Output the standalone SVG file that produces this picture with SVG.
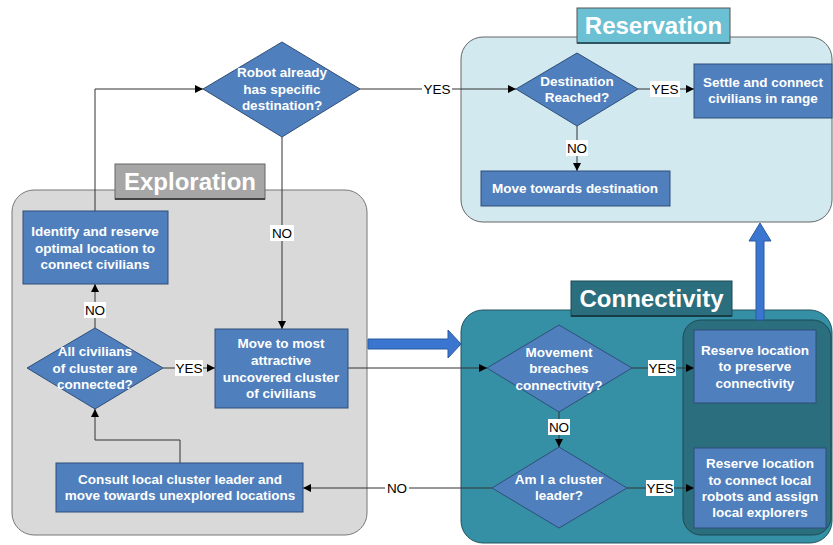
<svg xmlns="http://www.w3.org/2000/svg" width="833" height="545" viewBox="0 0 833 545">
<defs>
<marker id="ah" viewBox="0 0 10 10" refX="10" refY="5" markerWidth="8" markerHeight="8" markerUnits="userSpaceOnUse" orient="auto">
<path d="M0,0 L10,5 L0,10 z" fill="#000"/>
</marker>
</defs>
<style>
.nd{fill:#4f7fbd;stroke:#2f4f78;stroke-width:1}
.nt{font-family:"Liberation Sans",Arial,sans-serif;font-weight:bold;font-size:13.5px;fill:#fff;text-anchor:middle}
.ttl{font-family:"Liberation Sans",Arial,sans-serif;font-weight:bold;font-size:24px;fill:#fff;text-anchor:middle}
.ln{fill:none;stroke:#333;stroke-width:1}
.lb{font-family:"Liberation Sans",Arial,sans-serif;font-size:13.5px;fill:#000;text-anchor:middle}
.lbg{fill:#fff}
</style>
<rect width="833" height="545" fill="#fff"/>

<g id="exploration">
<rect x="12" y="190" width="355" height="345" rx="22" fill="#d9d9d9" stroke="#777"/>
<rect x="115" y="164" width="150" height="35" fill="#a6a6a6" stroke="#666"/>
<line x1="115" y1="199" x2="265" y2="199" stroke="#444" stroke-width="2"/>
<text class="ttl" x="190" y="190">Exploration</text>
</g>
<g id="reservation">
<rect x="461" y="37" width="371" height="185" rx="22" fill="#d2e9ef" stroke="#666"/>
<rect x="577" y="8" width="153" height="35" fill="#6cc0d3" stroke="#555"/>
<line x1="577" y1="43" x2="730" y2="43" stroke="#2f5560" stroke-width="2"/>
<text class="ttl" x="653.5" y="34">Reservation</text>
</g>
<g id="connectivity">
<rect x="461" y="310" width="371" height="233" rx="22" fill="#3590a6" stroke="#23525e"/>
<rect x="683" y="320" width="148" height="215" rx="18" fill="#2b6e7e" stroke="#1d4a55"/>
<rect x="571" y="281" width="161" height="35" fill="#2b6e7e" stroke="#1d4a55"/>
<line x1="571" y1="316" x2="732" y2="316" stroke="#163c45" stroke-width="2"/>
<text class="ttl" x="651.5" y="307">Connectivity</text>
</g>

<g id="big-arrows">
<path d="M368,339 L448,339 L448,330 L461,344 L448,358 L448,349 L368,349 z" fill="#3a76cf" stroke="#2a5aa0" stroke-width="1"/>
<path d="M756,320 L756,241 L749,241 L760,223 L771,241 L764,241 L764,320 z" fill="#3a76cf" stroke="#2a5aa0" stroke-width="1"/>
</g>

<g id="connectors">
<path class="ln" d="M95,211 L95,89 L203,89" marker-end="url(#ah)"/>
<path class="ln" d="M360,89 L516,89" marker-end="url(#ah)"/>
<path class="ln" d="M282,137 L282,329" marker-end="url(#ah)"/>
<path class="ln" d="M638,89 L694,89" marker-end="url(#ah)"/>
<path class="ln" d="M577,126 L577,171" marker-end="url(#ah)"/>
<path class="ln" d="M95,328 L95,284" marker-end="url(#ah)"/>
<path class="ln" d="M163,368 L215,368" marker-end="url(#ah)"/>
<path class="ln" d="M180,463 L180,440 L95,440 L95,409" marker-end="url(#ah)" stroke="#555"/>
<path class="ln" d="M348,368 L487,368" marker-end="url(#ah)"/>
<path class="ln" d="M632,368 L694,368" marker-end="url(#ah)"/>
<path class="ln" d="M559,412 L559,447" marker-end="url(#ah)"/>
<path class="ln" d="M492,488 L303,488" marker-end="url(#ah)"/>
<path class="ln" d="M627,488 L694,488" marker-end="url(#ah)"/>
<rect class="lbg" x="422" y="81" width="30" height="16"/><text class="lb" x="437" y="94">YES</text>
<rect class="lbg" x="270" y="225" width="24" height="16"/><text class="lb" x="282" y="238">NO</text>
<rect class="lbg" x="650" y="81" width="30" height="16"/><text class="lb" x="665" y="94">YES</text>
<rect class="lbg" x="566" y="140" width="22" height="16"/><text class="lb" x="577" y="153">NO</text>
<rect class="lbg" x="84" y="302" width="22" height="16"/><text class="lb" x="95" y="315">NO</text>
<rect class="lbg" x="175" y="360" width="28" height="16"/><text class="lb" x="189" y="373">YES</text>
<rect class="lbg" x="648" y="360" width="28" height="16"/><text class="lb" x="662" y="373">YES</text>
<rect class="lbg" x="548" y="419" width="22" height="16"/><text class="lb" x="559" y="432">NO</text>
<rect class="lbg" x="385" y="480" width="24" height="16"/><text class="lb" x="397" y="493">NO</text>
<rect class="lbg" x="646" y="480" width="28" height="16"/><text class="lb" x="660" y="493">YES</text>
</g>

<g id="n-robot">
<polygon class="nd" points="282,42 360,89 282,137 203,89"/>
<text class="nt" x="282" y="77">Robot already</text>
<text class="nt" x="282" y="94">has specific</text>
<text class="nt" x="282" y="110">destination?</text>
</g>
<g id="n-identify">
<rect class="nd" x="23" y="211" width="145" height="73"/>
<text class="nt" x="95" y="236">Identify and reserve</text>
<text class="nt" x="95" y="253">optimal location to</text>
<text class="nt" x="95" y="269">connect civilians</text>
</g>
<g id="n-allciv">
<polygon class="nd" points="95,328 163,368 95,409 27,368"/>
<text class="nt" x="95" y="356">All civilians</text>
<text class="nt" x="95" y="373">of cluster are</text>
<text class="nt" x="95" y="389">connected?</text>
</g>
<g id="n-move">
<rect class="nd" x="215" y="329" width="133" height="79"/>
<text class="nt" x="281" y="348">Move to most</text>
<text class="nt" x="281" y="365">attractive</text>
<text class="nt" x="281" y="382">uncovered cluster</text>
<text class="nt" x="281" y="398">of civilians</text>
</g>
<g id="n-consult">
<rect class="nd" x="56" y="463" width="247" height="49"/>
<text class="nt" x="180" y="484">Consult local cluster leader and</text>
<text class="nt" x="180" y="500">move towards unexplored locations</text>
</g>
<g id="n-destreached">
<polygon class="nd" points="577,53 638,89 577,126 516,89"/>
<text class="nt" x="577" y="86">Destination</text>
<text class="nt" x="577" y="102">Reached?</text>
</g>
<g id="n-settle">
<rect class="nd" x="694" y="64" width="138" height="54"/>
<text class="nt" x="763" y="87">Settle and connect</text>
<text class="nt" x="763" y="103">civilians in range</text>
</g>
<g id="n-movedest">
<rect class="nd" x="481" y="171" width="189" height="35"/>
<text class="nt" x="575" y="193">Move towards destination</text>
</g>
<g id="n-breach">
<polygon class="nd" points="559,325 632,368 559,412 487,368"/>
<text class="nt" x="559" y="357">Movement</text>
<text class="nt" x="559" y="373">breaches</text>
<text class="nt" x="559" y="390">connectivity?</text>
</g>
<g id="n-leader">
<polygon class="nd" points="559,447 627,488 559,528 492,488"/>
<text class="nt" x="559" y="484">Am I a cluster</text>
<text class="nt" x="559" y="500">leader?</text>
</g>
<g id="n-preserve">
<rect class="nd" x="694" y="330" width="122" height="73"/>
<text class="nt" x="755" y="355">Reserve location</text>
<text class="nt" x="755" y="371">to preserve</text>
<text class="nt" x="755" y="388">connectivity</text>
</g>
<g id="n-connectlocal">
<rect class="nd" x="694" y="448" width="132" height="80"/>
<text class="nt" x="760" y="468">Reserve location</text>
<text class="nt" x="760" y="485">to connect local</text>
<text class="nt" x="760" y="501">robots and assign</text>
<text class="nt" x="760" y="517">local explorers</text>
</g>
</svg>
